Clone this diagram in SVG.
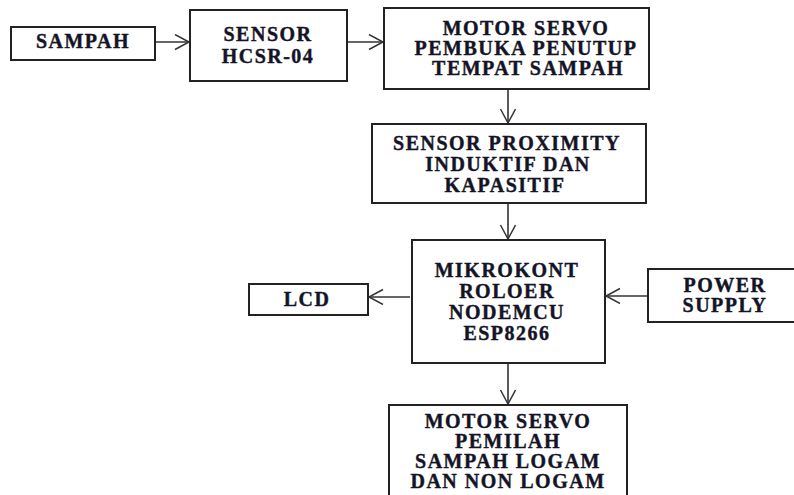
<svg xmlns="http://www.w3.org/2000/svg" width="794" height="495" viewBox="0 0 794 495">
<defs>
<marker id="arr" markerUnits="userSpaceOnUse" markerWidth="20" markerHeight="20" refX="15" refY="8" orient="auto">
<path d="M1,0.5 L15,8 L1,15.5" fill="none" stroke="#333" stroke-width="1.5"/>
</marker>
<style>
.box{fill:#fff;stroke:#222;stroke-width:2}
.t{font-family:"Liberation Serif","Times New Roman",serif;font-weight:bold;font-size:20px;letter-spacing:1.5px;fill:#141426;stroke:#141426;stroke-width:0.4;text-anchor:middle}
.c{fill:none;stroke:#333;stroke-width:1.6;marker-end:url(#arr)}
</style>
</defs>
<rect width="794" height="495" fill="#fff"/>
<g id="connectors">
<line class="c" x1="155" y1="42" x2="189" y2="42"/>
<line class="c" x1="347" y1="42" x2="383" y2="42"/>
<line class="c" x1="508" y1="89" x2="508" y2="123"/>
<line class="c" x1="508" y1="203" x2="508" y2="239"/>
<line class="c" x1="410" y1="297" x2="369" y2="297"/>
<line class="c" x1="648" y1="296" x2="606" y2="296"/>
<line class="c" x1="508" y1="363" x2="508" y2="404"/>
</g>
<g id="sampah">
<rect class="box" x="11" y="27" width="144" height="33"/>
<text class="t" x="83" y="48">SAMPAH</text>
</g>
<g id="sensor-hcsr">
<rect class="box" x="190" y="10" width="157" height="71"/>
<text class="t" x="268" y="41">SENSOR</text>
<text class="t" x="268" y="63">HCSR-04</text>
</g>
<g id="motor-servo-pembuka">
<rect class="box" x="384" y="8" width="265" height="81"/>
<text class="t" x="526" y="35">MOTOR SERVO</text>
<text class="t" x="526" y="55">PEMBUKA PENUTUP</text>
<text class="t" x="528" y="75">TEMPAT SAMPAH</text>
</g>
<g id="sensor-proximity">
<rect class="box" x="372" y="124" width="274" height="79"/>
<text class="t" x="507" y="150">SENSOR PROXIMITY</text>
<text class="t" x="508" y="171">INDUKTIF DAN</text>
<text class="t" x="505" y="192">KAPASITIF</text>
</g>
<g id="mikrokontroler">
<rect class="box" x="412" y="240" width="193" height="123"/>
<text class="t" x="507" y="277">MIKROKONT</text>
<text class="t" x="507" y="298">ROLOER</text>
<text class="t" x="507" y="319">NODEMCU</text>
<text class="t" x="507" y="340">ESP8266</text>
</g>
<g id="lcd">
<rect class="box" x="249" y="284" width="119" height="31"/>
<text class="t" x="307" y="306">LCD</text>
</g>
<g id="power-supply">
<rect class="box" x="648" y="269" width="154" height="53"/>
<text class="t" x="725" y="292">POWER</text>
<text class="t" x="725" y="312">SUPPLY</text>
</g>
<g id="motor-servo-pemilah">
<rect class="box" x="389" y="405" width="238" height="100"/>
<text class="t" x="508" y="428">MOTOR SERVO</text>
<text class="t" x="508" y="448">PEMILAH</text>
<text class="t" x="508" y="468">SAMPAH LOGAM</text>
<text class="t" x="508" y="488">DAN NON LOGAM</text>
</g>
</svg>
